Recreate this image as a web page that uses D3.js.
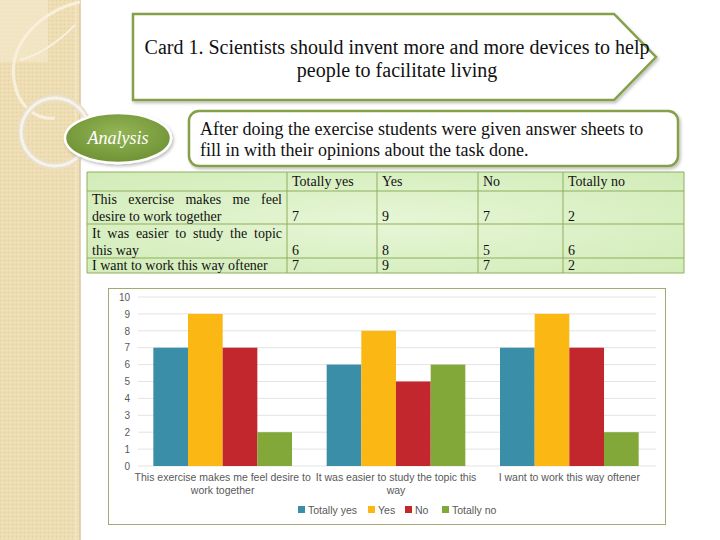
<!DOCTYPE html>
<html><head><meta charset="utf-8">
<script src="https://cdn.jsdelivr.net/npm/d3@7"></script>
<style>body{margin:0;background:#fff}svg{display:block}</style>
</head><body>
<script>
const categories = ["This exercise makes me feel desire to work together", "It was easier to study the topic this way", "I want to work this way oftener"];
const catLines = [["This exercise makes me feel desire to", "work together"], ["It was easier to study the topic this", "way"], ["I want to work this way oftener"]];
const tableRowLines = [["This exercise makes me feel", "desire to work together"], ["It was easier to study the topic", "this way"], ["I want to work this way oftener"]];
const seriesNames = ["Totally yes", "Yes", "No", "Totally no"];
const totallyYes = [7, 6, 7];
const yes = [9, 8, 9];
const no = [7, 5, 7];
const totallyNo = [2, 6, 2];
const yTicks = [0,1,2,3,4,5,6,7,8,9,10];
const colors = ["#3a8ea8", "#fbb713", "#c1272d", "#82a83a"];
const titleLines = ["Card 1. Scientists should invent more and more devices to help", "people to facilitate living"];
const analysisLines = ["After doing the exercise students were given answer sheets to", "fill in with their opinions about the task done."];

const values = [totallyYes, yes, no, totallyNo];

const W = 720, H = 540;
const svg = d3.select("body").append("svg").attr("width", W).attr("height", H);
const defs = svg.append("defs");
const SERIF = "'Liberation Serif', 'Times New Roman', serif";
const SANS = "'Liberation Sans', Arial, sans-serif";

const pat = defs.append("pattern").attr("id","tex").attr("width",4).attr("height",4).attr("patternUnits","userSpaceOnUse");
pat.append("rect").attr("width",4).attr("height",4).attr("fill","#eedcb2");
pat.append("rect").attr("x",0).attr("y",0).attr("width",1).attr("height",1).attr("fill","#e4cf9e");
pat.append("rect").attr("x",2).attr("y",2).attr("width",1).attr("height",1).attr("fill","#f5e8c8");

const sh = defs.append("filter").attr("id","shadow").attr("x","-10%").attr("y","-20%").attr("width","130%").attr("height","150%");
sh.append("feDropShadow").attr("dx",1.5).attr("dy",2).attr("stdDeviation",1.5).attr("flood-color","#000").attr("flood-opacity",0.25);

const g1 = defs.append("radialGradient").attr("id","ellg").attr("cx","50%").attr("cy","40%").attr("r","60%");
g1.append("stop").attr("offset","0%").attr("stop-color","#93b556");
g1.append("stop").attr("offset","100%").attr("stop-color","#6f9234");

const tg = defs.append("radialGradient").attr("id","tblg").attr("cx","50%").attr("cy","50%").attr("r","70%");
tg.append("stop").attr("offset","0%").attr("stop-color","#e6f6d6");
tg.append("stop").attr("offset","100%").attr("stop-color","#d2ecb8");

// left panel
svg.append("rect").attr("x",0).attr("y",0).attr("width",80).attr("height",H).attr("fill","url(#tex)");
svg.append("line").attr("x1",80).attr("x2",80).attr("y1",0).attr("y2",H).attr("stroke","#d9c79c").attr("stroke-width",1.5);
svg.append("line").attr("x1",76).attr("x2",76).attr("y1",0).attr("y2",H).attr("stroke","#f6ecd4").attr("stroke-width",1);
svg.append("rect").attr("x",0).attr("y",0).attr("width",48).attr("height",62).attr("fill","#f4e8cc").attr("opacity",0.7);
svg.append("path").attr("d","M80,2 C45,10 8,40 14,80 C18,110 40,120 55,118").attr("fill","none").attr("stroke","#f8f0dc").attr("stroke-width",3);
svg.append("path").attr("d","M20,60 C40,55 60,40 75,25").attr("fill","none").attr("stroke","#f8f0dc").attr("stroke-width",2);
svg.append("circle").attr("cx",55).attr("cy",132).attr("r",34).attr("fill","none").attr("stroke","#e8dfcd").attr("stroke-width",7);
svg.append("circle").attr("cx",55).attr("cy",132).attr("r",34).attr("fill","none").attr("stroke","#f8f3e8").attr("stroke-width",3);

// title arrow box
svg.append("path").attr("d","M133,14 L614,14 L656,57 L614,100 L133,100 Z")
  .attr("fill","#fff").attr("stroke","#86a048").attr("stroke-width",2.5).attr("filter","url(#shadow)");
svg.append("g").selectAll("text").data(titleLines).join("text")
  .attr("x",397).attr("y",(d,i)=>54+i*23).attr("text-anchor","middle")
  .attr("font-family",SERIF).attr("font-size",20).attr("fill","#111")
  .text(d=>d);

// Analysis ellipse
svg.append("ellipse").attr("cx",118).attr("cy",138).attr("rx",53).attr("ry",25)
  .attr("fill","url(#ellg)").attr("stroke","#fff").attr("stroke-width",2.5).attr("filter","url(#shadow)");
svg.append("text").attr("x",118).attr("y",144).attr("text-anchor","middle")
  .attr("font-family",SERIF).attr("font-style","italic").attr("font-size",18).attr("fill","#fff")
  .text("Analysis");

// analysis text box
svg.append("rect").attr("x",189).attr("y",111).attr("width",489).attr("height",55).attr("rx",10)
  .attr("fill","#fff").attr("stroke","#86a048").attr("stroke-width",2.5).attr("filter","url(#shadow)");
svg.append("g").selectAll("text").data(analysisLines).join("text")
  .attr("x",200).attr("y",(d,i)=>135+i*21)
  .attr("font-family",SERIF).attr("font-size",18).attr("fill","#111").text(d=>d);

// table
const colX = [87, 287, 377, 478, 563, 684];
const rowY = [172, 191, 224, 258, 273];
const tbl = svg.append("g");
const TFS = 14;
tbl.append("rect").attr("x",colX[0]).attr("y",rowY[0]).attr("width",colX[5]-colX[0]).attr("height",rowY[4]-rowY[0]).attr("fill","url(#tblg)");
colX.forEach(x=>tbl.append("line").attr("x1",x).attr("x2",x).attr("y1",rowY[0]).attr("y2",rowY[4]).attr("stroke","#8fae5c").attr("stroke-width",1));
rowY.forEach(y=>tbl.append("line").attr("x1",colX[0]).attr("x2",colX[5]).attr("y1",y).attr("y2",y).attr("stroke","#8fae5c").attr("stroke-width",1));
seriesNames.forEach((s,j)=>{
  tbl.append("text").attr("x",colX[j+1]+5).attr("y",rowY[0]+14).attr("font-family",SERIF).attr("font-size",TFS).attr("fill","#111").text(s);
});
tableRowLines.forEach((lines,i)=>{
  const bottom = rowY[i+2];
  lines.forEach((ln,k)=>{
    const y = bottom - 3.5 - (lines.length-1-k)*17;
    const justify = (k < lines.length-1);
    if (justify) {
      const words = ln.split(" ");
      const tmp = tbl.append("g");
      const widths = words.map(w=>{const t=tmp.append("text").attr("font-family",SERIF).attr("font-size",TFS).text(w); return t.node().getComputedTextLength();});
      tmp.remove();
      const avail = (colX[1]-colX[0]) - 10;
      const gap = (avail-d3.sum(widths))/(words.length-1);
      let x = colX[0]+5;
      words.forEach((w,wi)=>{
        tbl.append("text").attr("x",x).attr("y",y).attr("font-family",SERIF).attr("font-size",TFS).attr("fill","#111").text(w);
        x += widths[wi]+gap;
      });
    } else {
      tbl.append("text").attr("x",colX[0]+5).attr("y",y).attr("font-family",SERIF).attr("font-size",TFS).attr("fill","#111").text(ln);
    }
  });
  values.forEach((arr,j)=>{
    tbl.append("text").attr("x",colX[j+1]+5).attr("y",bottom-3.5).attr("font-family",SERIF).attr("font-size",TFS).attr("fill","#111").text(arr[i]);
  });
});

// chart box
svg.append("rect").attr("x",108.5).attr("y",288.5).attr("width",557).attr("height",236).attr("fill","#fff").attr("stroke","#a5a874").attr("stroke-width",1);

const x0 = d3.scaleBand().domain(categories).range([136, 656]).paddingInner(0.2).paddingOuter(0.1);
const x1 = d3.scaleBand().domain(seriesNames).range([0, x0.bandwidth()]);
const y = d3.scaleLinear().domain([0,10]).range([466, 297]);

svg.append("g").selectAll("line").data(yTicks).join("line")
  .attr("x1",138).attr("x2",656).attr("y1",d=>y(d)).attr("y2",d=>y(d))
  .attr("stroke","#e3e3e3").attr("stroke-width",1);

const yAxis = svg.append("g").attr("transform","translate(136,0)")
  .call(d3.axisLeft(y).tickValues(yTicks).tickSize(0).tickPadding(6));
yAxis.select(".domain").remove();
yAxis.selectAll("text").attr("font-family",SANS).attr("font-size",10).attr("fill","#595959");

const groups = svg.append("g").selectAll("g").data(categories).join("g")
  .attr("transform",d=>`translate(${x0(d)},0)`);
groups.selectAll("rect").data((d,i)=>seriesNames.map((s,j)=>({s, v: values[j][i]}))).join("rect")
  .attr("x",d=>x1(d.s)).attr("width",x1.bandwidth())
  .attr("y",d=>y(d.v)).attr("height",d=>y(0)-y(d.v))
  .attr("fill",(d,j)=>colors[j]);

const xl = svg.append("g");
categories.forEach((c,i)=>{
  catLines[i].forEach((ln,k)=>{
    xl.append("text").attr("x",x0(c)+x0.bandwidth()/2).attr("y",481+k*13).attr("text-anchor","middle")
      .attr("font-family",SANS).attr("font-size",10.5).attr("fill","#595959").text(ln);
  });
});

const leg = svg.append("g");
const legX = [298, 368, 405, 442];
seriesNames.forEach((s,j)=>{
  leg.append("rect").attr("x",legX[j]).attr("y",506).attr("width",7).attr("height",7).attr("fill",colors[j]);
  leg.append("text").attr("x",legX[j]+10).attr("y",513.5).attr("font-family",SANS)
    .attr("font-size",10.5).attr("fill","#595959").text(s);
});
</script>
</body></html>
